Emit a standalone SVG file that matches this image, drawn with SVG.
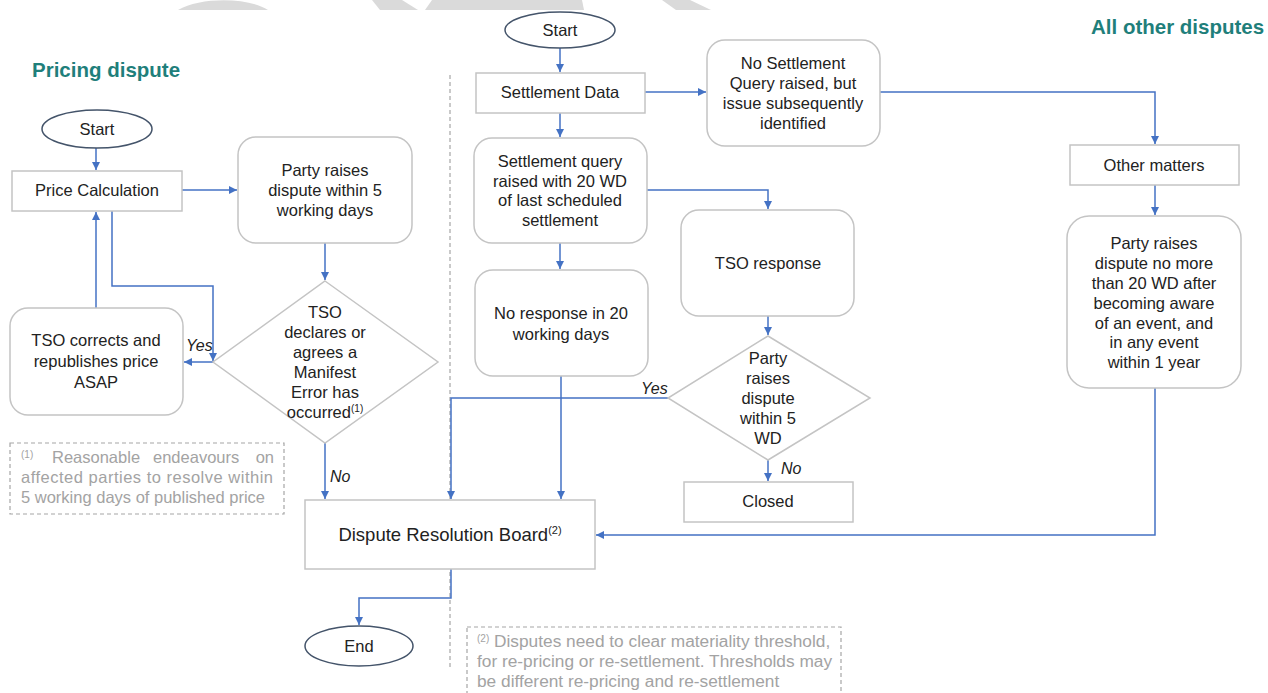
<svg xmlns="http://www.w3.org/2000/svg" width="1268" height="693" viewBox="0 0 1268 693">
<style>
.t{font-family:"Liberation Sans",Arial,sans-serif;font-size:16.5px;fill:#222;text-anchor:middle}
.ttl{font-family:"Liberation Sans",Arial,sans-serif;font-size:20.5px;font-weight:bold;fill:#1f7f7b}
.lbl{font-family:"Liberation Sans",Arial,sans-serif;font-size:16px;font-style:italic;fill:#222}
.note{font-family:"Liberation Sans",Arial,sans-serif;font-size:16.5px;fill:#a3a3a3}
.note2{font-size:17.3px}
.sup{font-size:10px}
.box{fill:#fff;stroke:#c4c4c4;stroke-width:1.5}
.ell{fill:#fff;stroke:#44546a;stroke-width:1.5}
.dash{fill:none;stroke:#a6a6a6;stroke-width:1.2;stroke-dasharray:4 3}
.wm{fill:#dadada}
.c{fill:none;stroke:#4472c4;stroke-width:1.5}
</style>
<defs>
<marker id="ah" markerUnits="userSpaceOnUse" markerWidth="9" markerHeight="8" refX="8" refY="4" orient="auto">
<path d="M0,0 L8,4 L0,8 Z" fill="#4472c4"/>
</marker>
</defs>
<rect width="1268" height="693" fill="#fff"/>
<g id="watermark">
<path class="wm" d="M178,10 C200,-3 248,-3 268,10 Z"/>
<polygon class="wm" points="372,0 402,0 418,10 380,10"/>
<polygon class="wm" points="432,0 582,0 584,10 425,10"/>
<polygon class="wm" points="662,0 690,0 711,10 676,10"/>
</g>
<line id="divider" class="dash" x1="450" y1="75" x2="450" y2="668"/>
<g id="title-pricing"><text class="ttl" x="32" y="77">Pricing dispute</text></g>
<g id="title-other"><text class="ttl" x="1091" y="34">All other disputes</text></g>

<g id="connectors">
<path class="c" d="M96,148 V170" marker-end="url(#ah)"/>
<path class="c" d="M182,190 H237" marker-end="url(#ah)"/>
<path class="c" d="M325,243 V280" marker-end="url(#ah)"/>
<path class="c" d="M112,211 V286 H213 V361" marker-end="url(#ah)"/>
<path class="c" d="M213,362 H184" marker-end="url(#ah)"/>
<path class="c" d="M96,308 V212" marker-end="url(#ah)"/>
<path class="c" d="M325,443 V499" marker-end="url(#ah)"/>
<path class="c" d="M560,48 V72" marker-end="url(#ah)"/>
<path class="c" d="M645,92 H706" marker-end="url(#ah)"/>
<path class="c" d="M880,92 H1155 V144" marker-end="url(#ah)"/>
<path class="c" d="M1155,185 V215" marker-end="url(#ah)"/>
<path class="c" d="M1155,388 V535 H596" marker-end="url(#ah)"/>
<path class="c" d="M560,113 V137" marker-end="url(#ah)"/>
<path class="c" d="M647,190 H768 V209" marker-end="url(#ah)"/>
<path class="c" d="M768,316 V335" marker-end="url(#ah)"/>
<path class="c" d="M668,398 H451 V499" marker-end="url(#ah)"/>
<path class="c" d="M560,243 V269" marker-end="url(#ah)"/>
<path class="c" d="M561,376 V499" marker-end="url(#ah)"/>
<path class="c" d="M768,460 V481" marker-end="url(#ah)"/>
<path class="c" d="M451,569 V598 H359 V625" marker-end="url(#ah)"/>
<text class="lbl" x="186" y="351">Yes</text>
<text class="lbl" x="330" y="482">No</text>
<text class="lbl" x="641" y="394">Yes</text>
<text class="lbl" x="781" y="474">No</text>
</g>

<g id="start1"><ellipse class="ell" cx="97" cy="129" rx="55" ry="19"/><text class="t" x="97" y="135">Start</text></g>
<g id="price-calc"><rect class="box" x="12" y="171" width="170" height="40"/><text class="t" x="97" y="196">Price Calculation</text></g>
<g id="party-raises-5wd"><rect class="box" x="238" y="137" width="174" height="106" rx="18"/>
<text class="t" x="325" y="176">Party raises</text><text class="t" x="325" y="196">dispute within 5</text><text class="t" x="325" y="216">working days</text></g>
<g id="tso-declares"><polygon class="box" points="325,281 438,362 325,443 213,362"/>
<text class="t" x="325" y="318">TSO</text><text class="t" x="325" y="338">declares or</text><text class="t" x="325" y="358">agrees a</text><text class="t" x="325" y="378">Manifest</text><text class="t" x="325" y="398">Error has</text><text class="t" x="325" y="418">occurred<tspan class="sup" dy="-6">(1)</tspan></text></g>
<g id="tso-corrects"><rect class="box" x="10" y="308" width="173" height="107" rx="18"/>
<text class="t" x="96" y="346">TSO corrects and</text><text class="t" x="96" y="367">republishes price</text><text class="t" x="96" y="388">ASAP</text></g>
<g id="note1"><rect class="dash" x="10" y="443" width="274" height="71"/>
<text class="note" x="21" y="463"><tspan class="sup" dy="-5">(1)</tspan></text>
<text class="note" x="52" y="463">Reasonable</text>
<text class="note" x="153" y="463">endeavours</text>
<text class="note" x="274" y="463" text-anchor="end">on</text>
<text class="note" x="21" y="483" textLength="252" lengthAdjust="spacing">affected parties to resolve within</text>
<text class="note" x="21" y="503">5 working days of published price</text></g>

<g id="start2"><ellipse class="ell" cx="560" cy="30" rx="55" ry="18"/><text class="t" x="560" y="36">Start</text></g>
<g id="settlement-data"><rect class="box" x="476" y="73" width="169" height="40"/><text class="t" x="560" y="98">Settlement Data</text></g>
<g id="no-settlement-query"><rect class="box" x="707" y="40" width="173" height="106" rx="18"/>
<text class="t" x="793" y="69">No Settlement</text><text class="t" x="793" y="89">Query raised, but</text><text class="t" x="793" y="109">issue subsequently</text><text class="t" x="793" y="129">identified</text></g>
<g id="other-matters"><rect class="box" x="1070" y="145" width="169" height="40"/><text class="t" x="1154" y="171">Other matters</text></g>
<g id="party-raises-20wd"><rect class="box" x="1067" y="216" width="174" height="172" rx="22"/>
<text class="t" x="1154" y="249">Party raises</text><text class="t" x="1154" y="269">dispute no more</text><text class="t" x="1154" y="289">than 20 WD after</text><text class="t" x="1154" y="309">becoming aware</text><text class="t" x="1154" y="329">of an event, and</text><text class="t" x="1154" y="348">in any event</text><text class="t" x="1154" y="368">within 1 year</text></g>
<g id="settlement-query"><rect class="box" x="474" y="138" width="173" height="105" rx="18"/>
<text class="t" x="560" y="167">Settlement query</text><text class="t" x="560" y="187">raised with 20 WD</text><text class="t" x="560" y="206">of last scheduled</text><text class="t" x="560" y="226">settlement</text></g>
<g id="tso-response"><rect class="box" x="681" y="210" width="173" height="106" rx="18"/><text class="t" x="768" y="269">TSO response</text></g>
<g id="party-raises-5wd-2"><polygon class="box" points="768,336 870,398 768,460 668,398"/>
<text class="t" x="768" y="364">Party</text><text class="t" x="768" y="384">raises</text><text class="t" x="768" y="404">dispute</text><text class="t" x="768" y="424">within 5</text><text class="t" x="768" y="444">WD</text></g>
<g id="no-response"><rect class="box" x="475" y="270" width="173" height="106" rx="18"/>
<text class="t" x="561" y="319">No response in 20</text><text class="t" x="561" y="340">working days</text></g>
<g id="closed"><rect class="box" x="684" y="482" width="169" height="40"/><text class="t" x="768" y="507">Closed</text></g>
<g id="drb"><rect class="box" x="305" y="500" width="290" height="69"/>
<text class="t" x="450" y="541" style="font-size:18.5px">Dispute Resolution Board<tspan class="sup" dy="-7" style="font-size:11px">(2)</tspan></text></g>
<g id="end"><ellipse class="ell" cx="359" cy="646" rx="54" ry="20"/><text class="t" x="359" y="652">End</text></g>
<g id="note2"><rect class="dash" x="467" y="627" width="374" height="80"/>
<text class="note note2" x="477" y="647"><tspan class="sup" dy="-5">(2)</tspan><tspan dy="5"> Disputes need to clear materiality threshold,</tspan></text>
<text class="note note2" x="477" y="667">for re-pricing or re-settlement. Thresholds may</text>
<text class="note note2" x="477" y="687">be different re-pricing and re-settlement</text></g>
</svg>
